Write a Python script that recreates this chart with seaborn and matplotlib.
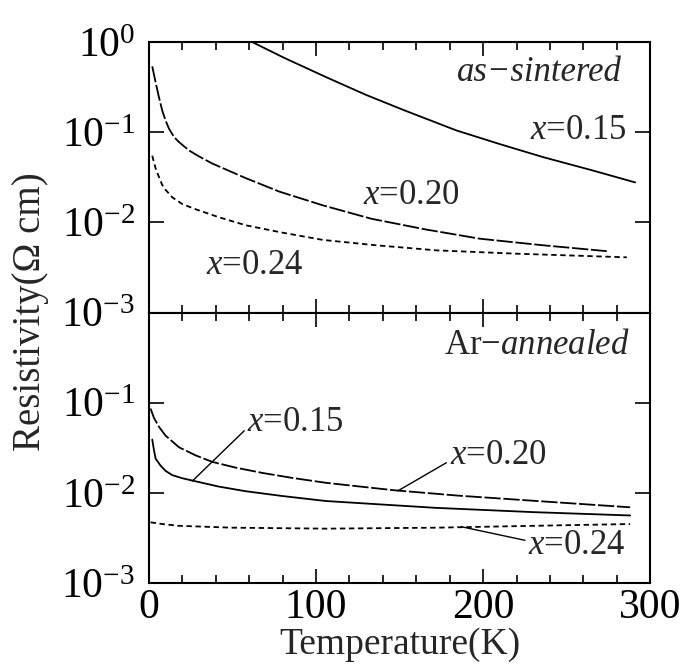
import numpy as np
import pandas as pd
import matplotlib
matplotlib.use("Agg")
import matplotlib.pyplot as plt
import seaborn as sns
from matplotlib.ticker import LogFormatterMathtext, NullLocator, FixedLocator

# as-sintered
sint_T_015 = [62, 81, 106, 130, 153, 184, 210, 236, 265, 291]
sint_R_015 = [1.0, 0.67, 0.41, 0.26, 0.175, 0.105, 0.074, 0.053, 0.038, 0.0278]
sint_T_020 = [2, 4, 6, 8, 10, 12, 15, 18, 24, 30, 38, 58, 78, 104, 133, 165, 198, 235, 274]
sint_R_020 = [0.54, 0.36, 0.246, 0.174, 0.135, 0.11, 0.089, 0.078, 0.063, 0.054, 0.045, 0.031, 0.022,
              0.0155, 0.011, 0.0084, 0.0066, 0.0056, 0.0048]
sint_T_024 = [2, 4, 6, 8, 10, 14, 20, 28, 42, 58, 80, 104, 135, 172, 220, 286]
sint_R_024 = [0.055, 0.040, 0.032, 0.026, 0.023, 0.019, 0.016, 0.014, 0.0114, 0.0093, 0.0077, 0.0064,
              0.0056, 0.0049, 0.0045, 0.0041]

# Ar-annealed
ann_T_015 = [2, 3, 4, 7, 10, 14, 20, 28, 42, 58, 80, 106, 140, 172, 230, 288]
ann_R_015 = [0.039, 0.030, 0.024, 0.020, 0.0175, 0.0157, 0.0145, 0.0134, 0.0117, 0.0104, 0.0092, 0.0081,
             0.0074, 0.0068, 0.0061, 0.0056]
ann_T_020 = [1, 3, 6, 10, 18, 28, 38, 52, 68, 86, 106, 146, 185, 224, 288]
ann_R_020 = [0.086, 0.068, 0.054, 0.043, 0.032, 0.026, 0.022, 0.019, 0.0166, 0.0146, 0.0129, 0.0107, 0.0093,
             0.0083, 0.0069]
ann_T_024 = [1, 8, 18, 50, 106, 172, 230, 288]
ann_R_024 = [0.0047, 0.0045, 0.0043, 0.0041, 0.0040, 0.0041, 0.0043, 0.0045]

series_names = ["x=0.15", "x=0.20", "x=0.24"]
x_major = [0, 100, 200, 300]


def make_frame(Ts, Rs):
    parts = []
    for name, T, R in zip(series_names, Ts, Rs):
        parts.append(pd.DataFrame({"T": T, "R": R, "x": name}))
    return pd.concat(parts, ignore_index=True)


df_sint = make_frame([sint_T_015, sint_T_020, sint_T_024], [sint_R_015, sint_R_020, sint_R_024])
df_ann = make_frame([ann_T_015, ann_T_020, ann_T_024], [ann_R_015, ann_R_020, ann_R_024])

sns.set_theme(style="ticks")
plt.rcParams["font.family"] = ["Liberation Serif", "DejaVu Serif"]
plt.rcParams["mathtext.fontset"] = "custom"
plt.rcParams["mathtext.rm"] = "Liberation Serif"
plt.rcParams["mathtext.it"] = "Liberation Serif:italic"
plt.rcParams["xtick.direction"] = "in"
plt.rcParams["ytick.direction"] = "in"
plt.rcParams["xtick.top"] = True
plt.rcParams["ytick.right"] = True
plt.rcParams["xtick.color"] = "black"
plt.rcParams["ytick.color"] = "black"
plt.rcParams["axes.edgecolor"] = "black"

dash_map = {"x=0.15": "", "x=0.20": (9, 1.5), "x=0.24": (3, 2)}

fig, (ax1, ax2) = plt.subplots(2, 1, figsize=(6.83, 6.70), dpi=100, sharex=True)
fig.subplots_adjust(left=0.218, right=0.952, top=0.937, bottom=0.13, hspace=0)

for ax, df in [(ax1, df_sint), (ax2, df_ann)]:
    sns.lineplot(data=df, x="T", y="R", style="x", dashes=dash_map, color="black",
                 linewidth=1.3, estimator=None, sort=False, legend=False, ax=ax)
    ax.set_yscale("log")
    ax.set_ylim(1e-3, 1e0)
    ax.set_xlim(0, 300)
    ax.set_xticks(x_major)
    ax.set_xticks(np.arange(0, 301, 20), minor=True)
    ax.yaxis.set_major_formatter(LogFormatterMathtext())
    ax.yaxis.set_minor_locator(NullLocator())
    ax.tick_params(which="both", direction="in", top=True, right=True, bottom=True, left=True,
                   width=1.2, color="black", labelsize=30, pad=10)
    ax.tick_params(axis="x", which="major", length=10, pad=4)
    ax.tick_params(axis="y", which="major", length=11)
    ax.tick_params(axis="x", which="minor", length=6)
    for sp in ax.spines.values():
        sp.set_linewidth(1.5)
        sp.set_color("black")
    ax.set_xlabel("")
    ax.set_ylabel("")

ax1.yaxis.set_major_locator(FixedLocator([1e-3, 1e-2, 1e-1, 1e0]))
ax2.yaxis.set_major_locator(FixedLocator([1e-3, 1e-2, 1e-1]))
ax1.tick_params(axis="x", labelbottom=False)

ax2.set_xlabel("Temperature(K)", fontsize=27, labelpad=0)
fig.text(0.045, 0.535, "Resistivity(\u03a9 cm)", rotation=90, fontsize=28, ha="center", va="center")

fs = 25
ax1.text(283, 0.46, "as\u2212sintered", fontsize=fs, style="italic", ha="right", va="center")
ax1.text(286, 0.105, "$x$=0.15", fontsize=fs, ha="right", va="center")
ax1.text(128, 0.02, "$x$=0.20", fontsize=fs, ha="left", va="center")
ax1.text(34, 0.0033, "$x$=0.24", fontsize=fs, ha="left", va="center")

ax2.text(288, 0.43, "Ar\u2212$\\mathit{annealed}$", fontsize=fs, ha="right", va="center")
line_kw = dict(arrowstyle="-", color="black", lw=1.0, shrinkA=0, shrinkB=0)
ax2.annotate("$x$=0.15", xy=(26, 0.0135), xytext=(59, 0.060), fontsize=fs, ha="left", va="center",
             arrowprops=dict(relpos=(0, 0.35), **line_kw))
ax2.annotate("$x$=0.20", xy=(149, 0.0105), xytext=(180, 0.0257), fontsize=fs, ha="left", va="center",
             arrowprops=dict(relpos=(0, 0.35), **line_kw))
ax2.annotate("$x$=0.24", xy=(187, 0.0042), xytext=(227, 0.00257), fontsize=fs, ha="left", va="center",
             arrowprops=dict(relpos=(0, 0.65), **line_kw))

fig.savefig("out.png", dpi=100)
